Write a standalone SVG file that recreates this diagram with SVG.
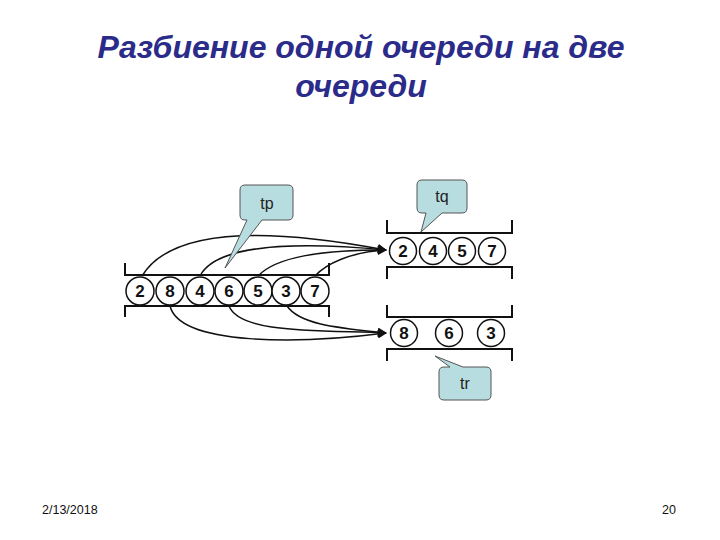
<svg xmlns="http://www.w3.org/2000/svg" width="720" height="540" viewBox="0 0 720 540">
<style>
.title{font-family:"Liberation Sans",Arial,sans-serif;font-weight:bold;font-style:italic;font-size:32px;fill:#2b2b8a;text-anchor:middle}
.rail{stroke:#111;stroke-width:2;fill:none}
.cell{fill:#fff;stroke:#111;stroke-width:1.5}
.num{font-family:"Liberation Sans",Arial,sans-serif;font-weight:bold;font-size:17px;fill:#111;text-anchor:middle}
.call{fill:#b8dde0;stroke:#555;stroke-width:1}
.ctext{font-family:"Liberation Sans",Arial,sans-serif;font-size:16px;fill:#222;text-anchor:middle}
.link{fill:none;stroke:#111;stroke-width:1.5}
.foot{font-family:"Liberation Sans",Arial,sans-serif;font-size:12.5px;fill:#111}
</style>
<defs>
<marker id="arr" viewBox="0 0 10 10" refX="9" refY="5" markerWidth="10" markerHeight="9" markerUnits="userSpaceOnUse" orient="auto">
<path d="M0,0 L10,5 L0,10 Z" fill="#111"/>
</marker>
</defs>
<rect width="720" height="540" fill="#fff"/>
<text class="title" x="361" y="58">Разбиение одной очереди на две</text>
<text class="title" x="361" y="97">очереди</text>

<g id="queue-main">
<path class="rail" d="M125,263 V275 H329 V263"/>
<path class="rail" d="M125,317 V306 H329 V317"/>
<circle class="cell" cx="140" cy="291" r="14"/><text class="num" x="140" y="297">2</text>
<circle class="cell" cx="170" cy="291" r="14"/><text class="num" x="170" y="297">8</text>
<circle class="cell" cx="200" cy="291" r="14"/><text class="num" x="200" y="297">4</text>
<circle class="cell" cx="229" cy="291" r="14"/><text class="num" x="229" y="297">6</text>
<circle class="cell" cx="258" cy="291" r="14"/><text class="num" x="258" y="297">5</text>
<circle class="cell" cx="286" cy="291" r="14"/><text class="num" x="286" y="297">3</text>
<circle class="cell" cx="315" cy="291" r="14"/><text class="num" x="315" y="297">7</text>
</g>

<g id="queue-q">
<path class="rail" d="M387,220 V233 H512 V220"/>
<path class="rail" d="M387,279 V267 H512 V279"/>
<circle class="cell" cx="403" cy="251" r="13.5"/><text class="num" x="403" y="257">2</text>
<circle class="cell" cx="433" cy="251" r="13.5"/><text class="num" x="433" y="257">4</text>
<circle class="cell" cx="462" cy="251" r="13.5"/><text class="num" x="462" y="257">5</text>
<circle class="cell" cx="492" cy="251" r="13.5"/><text class="num" x="492" y="257">7</text>
</g>

<g id="queue-r">
<path class="rail" d="M387,305 V317 H512 V305"/>
<path class="rail" d="M387,361 V349 H512 V361"/>
<circle class="cell" cx="404" cy="333" r="13.5"/><text class="num" x="404" y="339">8</text>
<circle class="cell" cx="449" cy="333" r="13.5"/><text class="num" x="449" y="339">6</text>
<circle class="cell" cx="491" cy="333" r="13.5"/><text class="num" x="491" y="339">3</text>
</g>

<g id="connectors">
<path class="link" marker-end="url(#arr)" d="M142,276 C170,230 260,226 386,250"/>
<path class="link" marker-end="url(#arr)" d="M200,276 C214,248 280,240 386,250"/>
<path class="link" marker-end="url(#arr)" d="M258,276 C276,257 320,250 386,250"/>
<path class="link" marker-end="url(#arr)" d="M315,276 C326,264 350,252 386,250"/>
<path class="link" marker-end="url(#arr)" d="M170,306 C180,346 300,344 386,333"/>
<path class="link" marker-end="url(#arr)" d="M229,306 C240,334 320,330 386,333"/>
<path class="link" marker-end="url(#arr)" d="M287,306 C300,325 340,328 386,333"/>
</g>

<g id="callout-tp">
<path class="call" d="M245,185 H288 Q293,185 293,190 V215 Q293,220 288,220 H262 L225,268 L247,220 H245 Q240,220 240,215 V190 Q240,185 245,185 Z"/>
<text class="ctext" x="267" y="209">tp</text>
</g>
<g id="callout-tq">
<path class="call" d="M422,180 H462 Q467,180 467,185 V208 Q467,213 462,213 H442 L421,232 L426,213 H422 Q417,213 417,208 V185 Q417,180 422,180 Z"/>
<text class="ctext" x="442" y="202">tq</text>
</g>
<g id="callout-tr">
<path class="call" d="M444,367 H450 L435,356 L463,367 H486 Q491,367 491,372 V395 Q491,400 486,400 H444 Q439,400 439,395 V372 Q439,367 444,367 Z"/>
<text class="ctext" x="465" y="389">tr</text>
</g>

<text class="foot" x="42" y="514">2/13/2018</text>
<text class="foot" x="662" y="514">20</text>
</svg>
